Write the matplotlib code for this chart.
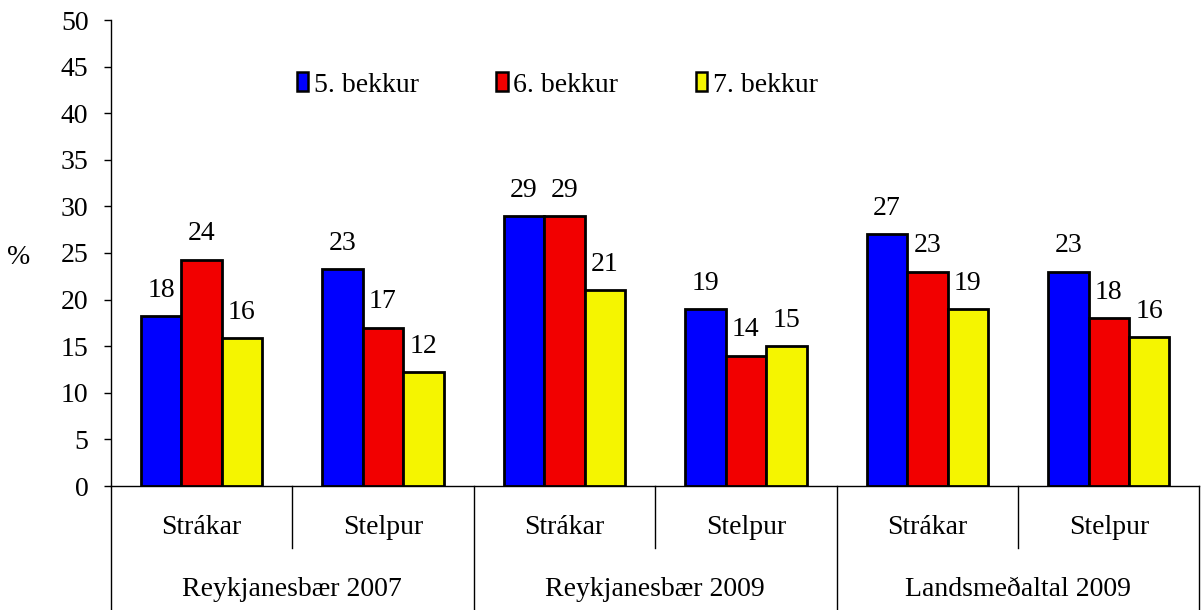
import matplotlib.pyplot as plt
import matplotlib.transforms as mtransforms
from matplotlib.patches import Patch
import numpy as np

plt.rcParams["font.family"] = ["Liberation Serif", "DejaVu Serif"]

# Data
regions = ["Reykjanesbær 2007", "Reykjanesbær 2009", "Landsmeðaltal 2009"]
genders = ["Strákar", "Stelpur"]
series_names = ["5. bekkur", "6. bekkur", "7. bekkur"]
grade5 = [18.2, 23.3, 29, 19, 27, 23]
grade6 = [24.3, 17.0, 29, 14, 23, 18]
grade7 = [15.9, 12.2, 21, 15, 19, 16]
colors = ["#0000FF", "#F20000", "#F5F500"]

FS = 20
W, H = 1201, 610
fig = plt.figure(figsize=(W / 100, H / 100), dpi=100)
ax = fig.add_axes([110.7 / W, 1 - 486 / H, (1199.5 - 110.7) / W, (486 - 20) / H])

x = np.arange(len(grade5))
bw = 0.223
for i, (vals, name, col) in enumerate(zip([grade5, grade6, grade7], series_names, colors)):
    pos = x + (i - 1) * bw
    ax.bar(pos, vals, width=bw, color=col, edgecolor="black", linewidth=2,
           label=name, zorder=3)
    for p, v in zip(pos, vals):
        ax.annotate(f"{v:.0f}", (p, v), xytext=(0, 18.5), textcoords="offset points",
                    ha="center", va="center", fontsize=FS)

ax.set_xlim(-0.5, len(grade5) - 0.5)
ax.set_ylim(0, 50)
ax.set_yticks(range(0, 51, 5))
ax.tick_params(axis="y", direction="out", length=5, width=1, labelsize=FS, pad=11)
ax.set_xticks([])
for s in ["top", "right"]:
    ax.spines[s].set_visible(False)
ax.spines["left"].set_linewidth(1)
ax.spines["bottom"].set_linewidth(1)

# two-level category axis
trans = mtransforms.blended_transform_factory(ax.transData, ax.transAxes)
ax_h = 486 - 20
short_y = -(548 - 486) / ax_h
long_y = -(610 - 486) / ax_h
for b in np.arange(-0.5, len(grade5), 1.0):
    if int(b + 0.5) % 2 == 0:
        y0 = long_y
    else:
        y0 = short_y
    ax.plot([b, b], [0, y0], color="black", linewidth=1, transform=trans, clip_on=False)

for k in range(len(grade5)):
    ax.text(k, -(528 - 486) / ax_h, genders[k % 2], transform=trans,
            ha="center", va="center", fontsize=FS)
for r, name in enumerate(regions):
    ax.text(2 * r + 0.5, -(590 - 486) / ax_h, name, transform=trans,
            ha="center", va="center", fontsize=FS)

fig.text(19 / W, 1 - 257 / H, "%", ha="center", va="center", fontsize=FS)

handles = [Patch(facecolor=c, edgecolor="black", linewidth=1.8) for c in colors]
fig.legend(handles, series_names, loc="center left",
           bbox_to_anchor=(297 / W, 1 - 85 / H), ncol=3, frameon=False,
           fontsize=FS, handlelength=0.4, handleheight=0.65, handletextpad=0.2,
           columnspacing=2.8, borderpad=0, borderaxespad=0)

fig.savefig("out.png", dpi=100)
